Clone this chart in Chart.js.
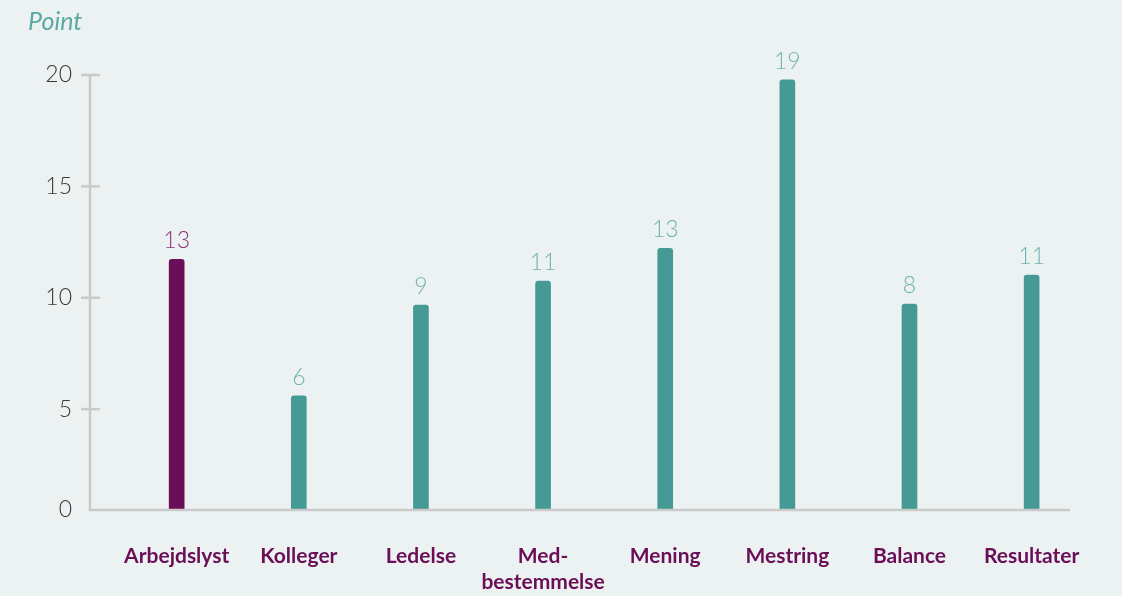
<!DOCTYPE html>
<html>
<head>
<meta charset="utf-8">
<script src="https://cdn.jsdelivr.net/npm/chart.js@4.4.1/dist/chart.umd.min.js"></script>
<style>
  html, body { margin: 0; padding: 0; background: #ECF2F2; }
  #wrap { width: 1122px; height: 596px; position: relative; }
</style>
</head>
<body>
<div id="wrap"><canvas id="c" width="1122" height="596"></canvas></div>
<script>
const categories = ["Arbejdslyst", "Kolleger", "Ledelse", ["Med-", "bestemmelse"], "Mening", "Mestring", "Balance", "Resultater"];
const values = [11.72, 5.6, 9.67, 10.75, 12.22, 19.78, 9.72, 11.02];
const valueLabels = ["13", "6", "9", "11", "13", "19", "8", "11"];
const yTicks = [0, 5, 10, 15, 20];
const axisBase = 0.47; // where the drawn x-axis line sits on the value scale
const axisTitle = "Point";

const TEAL = "#459A95";
const PURPLE = "#6A0F57";
const barColors = values.map((v, i) => i === 0 ? PURPLE : TEAL);
const labelColors = values.map((v, i) => i === 0 ? "#8A3479" : "#6DB4AF");

const decor = {
  id: "decor",
  beforeDraw(chart) {
    const ctx = chart.ctx;
    ctx.save();
    ctx.fillStyle = "#ECF2F2";
    ctx.fillRect(0, 0, chart.width, chart.height);
    ctx.restore();
  },
  afterDatasetsDraw(chart) {
    const ctx = chart.ctx;
    const y = chart.scales.y;
    const axisX = 90;
    const xEnd = 1070;
    const baseY = y.getPixelForValue(y.min);
    ctx.save();
    ctx.strokeStyle = "#C9CBCB";
    ctx.lineWidth = 2.5;
    ctx.beginPath();
    ctx.moveTo(axisX, y.getPixelForValue(yTicks[yTicks.length - 1]));
    ctx.lineTo(axisX, baseY);
    ctx.stroke();
    yTicks.forEach(t => {
      if (t === 0) return;
      const py = y.getPixelForValue(t);
      ctx.beginPath();
      ctx.moveTo(axisX - 9, py);
      ctx.lineTo(axisX + 10, py);
      ctx.stroke();
    });
    ctx.beginPath();
    ctx.moveTo(axisX - 1.25, baseY);
    ctx.lineTo(xEnd, baseY);
    ctx.stroke();

    const meta = chart.getDatasetMeta(0);
    ctx.font = "300 23px Lato";
    ctx.textAlign = "center";
    ctx.textBaseline = "alphabetic";
    meta.data.forEach((bar, i) => {
      ctx.fillStyle = labelColors[i];
      ctx.fillText(valueLabels[i], bar.x, bar.y - 11);
    });

    ctx.font = "italic 25px Lato";
    ctx.fillStyle = "#5AA9A4";
    ctx.textAlign = "left";
    ctx.fillText(axisTitle, 28, 30);
    ctx.restore();
  }
};

new Chart(document.getElementById("c"), {
  type: "bar",
  data: {
    labels: categories,
    datasets: [{
      data: values,
      backgroundColor: barColors,
      borderWidth: 0,
      barThickness: 15,
      borderRadius: { topLeft: 3, topRight: 3, bottomLeft: 0, bottomRight: 0 },
      borderSkipped: "bottom"
    }]
  },
  options: {
    responsive: false,
    animation: false,
    devicePixelRatio: 1,
    layout: { padding: { top: 75, right: 29.3, left: 0, bottom: 0 } },
    plugins: { legend: { display: false }, tooltip: { enabled: false } },
    scales: {
      x: {
        grid: { display: false, drawTicks: false },
        border: { display: false },
        ticks: {
          color: "#6A0F57",
          font: { family: "Lato", weight: "bold", size: 21, lineHeight: 1.2 },
          padding: 34,
          maxRotation: 0,
          autoSkip: false
        },
        afterFit(scale) { scale.height = 86; }
      },
      y: {
        min: axisBase,
        max: 20,
        grid: { display: false, drawTicks: false },
        border: { display: false },
        ticks: {
          color: "#3A3A3A",
          font: { family: "Lato", weight: "300", size: 23 },
          padding: 43.6,
          callback: (v) => String(Math.round(v))
        },
        afterBuildTicks(scale) {
          scale.ticks = yTicks.map(v => ({ value: v === 0 ? axisBase : v }));
        },
        afterFit(scale) { scale.width = 115.6; }
      }
    }
  },
  plugins: [decor]
});
</script>
</body>
</html>
